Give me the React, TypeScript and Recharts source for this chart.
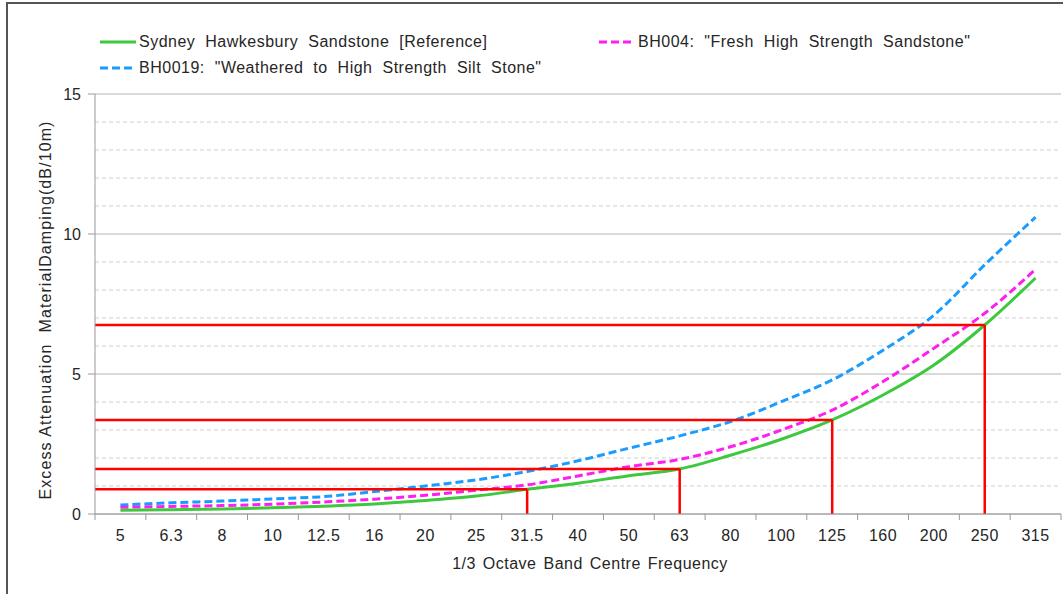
import React from "react";
import {
  LineChart,
  Line,
  XAxis,
  YAxis,
  CartesianGrid,
  ReferenceLine,
} from "recharts";

const FREQS = ["5", "6.3", "8", "10", "12.5", "16", "20", "25", "31.5", "40", "50", "63", "80", "100", "125", "160", "200", "250", "315"];
const SYDNEY = [0.13, 0.15, 0.18, 0.22, 0.28, 0.36, 0.48, 0.64, 0.88, 1.1, 1.37, 1.61, 2.1, 2.67, 3.36, 4.25, 5.32, 6.75, 8.43];
const BH004 = [0.24, 0.27, 0.3, 0.35, 0.43, 0.53, 0.67, 0.85, 1.04, 1.36, 1.69, 1.95, 2.4, 3.0, 3.71, 4.73, 5.92, 7.17, 8.74];
const BH0019 = [0.32, 0.4, 0.46, 0.54, 0.62, 0.8, 1.0, 1.22, 1.52, 1.9, 2.35, 2.79, 3.3, 4.01, 4.79, 5.85, 7.1, 8.9, 10.6];

// red guide lines: band index on the x axis and the level they mark
const MARK_IDX = [8, 11, 14, 17];
const MARK_LEVEL = [0.88, 1.61, 3.36, 6.75];

const MAJOR_TICKS = [0, 5, 10, 15];
const MINOR_TICKS = [1, 2, 3, 4, 6, 7, 8, 9, 11, 12, 13, 14];

const FONT = "'Liberation Sans', Arial, sans-serif";
const GREEN = "#3dc83d";
const MAGENTA = "#ff1ef0";
const BLUE = "#1a9cff";
const RED = "#ff0000";
const TEXT = "#262626";

const data = FREQS.map((f, i) => ({
  idx: i,
  freq: f,
  sydney: SYDNEY[i],
  bh004: BH004[i],
  bh0019: BH0019[i],
}));

const W = 1063;
const H = 594;
const MARGIN = { top: 94, right: 2, left: 55, bottom: 50 };
const Y_AXIS_W = 40;
const PLOT_W = W - MARGIN.left - MARGIN.right - Y_AXIS_W;
const BAND = PLOT_W / FREQS.length;

// eslint-disable-next-line @typescript-eslint/no-explicit-any
function FreqTick(props: any) {
  const { x, y, payload, index } = props;
  const last = index === FREQS.length - 1;
  return (
    <g>
      <line x1={x - BAND / 2} x2={x - BAND / 2} y1={y} y2={y + 6} stroke="#999" />
      {last && <line x1={x + BAND / 2} x2={x + BAND / 2} y1={y} y2={y + 6} stroke="#999" />}
      <text x={x} y={y + 27} textAnchor="middle" fill={TEXT} fontSize={16} letterSpacing={0.5} fontFamily={FONT}>
        {FREQS[payload.value]}
      </text>
    </g>
  );
}

function LegendItem({ color, dashed, label, left, top }: { color: string; dashed: boolean; label: string; left: number; top: number }) {
  return (
    <div style={{ position: "absolute", left, top, display: "flex", alignItems: "center", whiteSpace: "pre" }}>
      <svg width={38} height={6}>
        <line x1={1} x2={37} y1={3} y2={3} stroke={color} strokeWidth={3} strokeDasharray={dashed ? "8 4" : undefined} />
      </svg>
      <span style={{ marginLeft: 2, fontSize: 16, letterSpacing: 0.5, wordSpacing: 5, fontFamily: FONT, color: TEXT }}>{label}</span>
    </div>
  );
}

export default function App() {
  return (
    <div style={{ position: "absolute", left: 0, top: 0, width: W, height: H, overflow: "hidden", background: "#fff" }}>
      <div style={{ position: "absolute", left: 6, top: 2, width: W + 40, height: H + 40, border: "2px solid #555" }} />
      <LegendItem color={GREEN} dashed={false} label="Sydney Hawkesbury Sandstone [Reference]" left={99} top={33} />
      <LegendItem color={MAGENTA} dashed label={'BH004: "Fresh High Strength Sandstone"'} left={598} top={33} />
      <LegendItem color={BLUE} dashed label={'BH0019: "Weathered to High Strength Silt Stone"'} left={99} top={59} />
      <div style={{ position: "absolute", left: 0, top: 0 }}>
        <LineChart width={W} height={H} data={data} margin={MARGIN}>
          <CartesianGrid vertical={false} stroke="#b4b4b4" />
          {MINOR_TICKS.map((t) => (
            <ReferenceLine key={t} y={t} stroke="#cfcfcf" strokeDasharray="4 3" />
          ))}
          <XAxis
            dataKey="idx"
            type="number"
            domain={[-0.5, FREQS.length - 0.5]}
            ticks={data.map((d) => d.idx)}
            interval={0}
            tickSize={0}
            tickMargin={0}
            tick={<FreqTick />}
            axisLine={{ stroke: "#999" }}
            height={30}
            label={{
              // eslint-disable-next-line @typescript-eslint/no-explicit-any
              content: (p: any) => {
                const vb = p.viewBox;
                return (
                  <text x={vb.x + vb.width / 2 + 12} y={vb.y + 55} textAnchor="middle" fill={TEXT} fontSize={16} letterSpacing={0.5} wordSpacing={2} fontFamily={FONT}>
                    1/3 Octave Band Centre Frequency
                  </text>
                );
              },
            }}
          />
          <YAxis
            type="number"
            domain={[0, 15]}
            ticks={MAJOR_TICKS}
            width={Y_AXIS_W}
            tickSize={7}
            tickMargin={7}
            tick={{ fill: TEXT, fontSize: 16, fontFamily: FONT }}
            tickLine={{ stroke: "#999" }}
            axisLine={{ stroke: "#999" }}
            label={{
              // eslint-disable-next-line @typescript-eslint/no-explicit-any
              content: (p: any) => {
                const vb = p.viewBox;
                const cx = vb.x - 10;
                const cy = vb.y + vb.height / 2 + 6;
                return (
                  <text x={cx} y={cy} transform={`rotate(-90 ${cx} ${cy})`} textAnchor="middle" dominantBaseline="central" fill={TEXT} fontSize={16} letterSpacing={1.1} fontFamily={FONT} style={{ whiteSpace: "pre" }}>
                    {"Excess Attenuation  MaterialDamping(dB/10m)"}
                  </text>
                );
              },
            }}
          />
          <Line type="monotone" dataKey="bh0019" stroke={BLUE} strokeWidth={3} strokeDasharray="8 4" dot={false} isAnimationActive={false} />
          <Line type="monotone" dataKey="bh004" stroke={MAGENTA} strokeWidth={3} strokeDasharray="8 4" dot={false} isAnimationActive={false} />
          <Line type="monotone" dataKey="sydney" stroke={GREEN} strokeWidth={3} dot={false} isAnimationActive={false} />
          {MARK_IDX.map((ix, i) => (
            <ReferenceLine
              key={`h${ix}`}
              segment={[
                { x: -0.5, y: MARK_LEVEL[i] },
                { x: ix, y: MARK_LEVEL[i] },
              ]}
              stroke={RED}
              strokeWidth={2.5}
            />
          ))}
          {MARK_IDX.map((ix, i) => (
            <ReferenceLine
              key={`v${ix}`}
              segment={[
                { x: ix, y: 0 },
                { x: ix, y: MARK_LEVEL[i] },
              ]}
              stroke={RED}
              strokeWidth={2.5}
            />
          ))}
        </LineChart>
      </div>
    </div>
  );
}
